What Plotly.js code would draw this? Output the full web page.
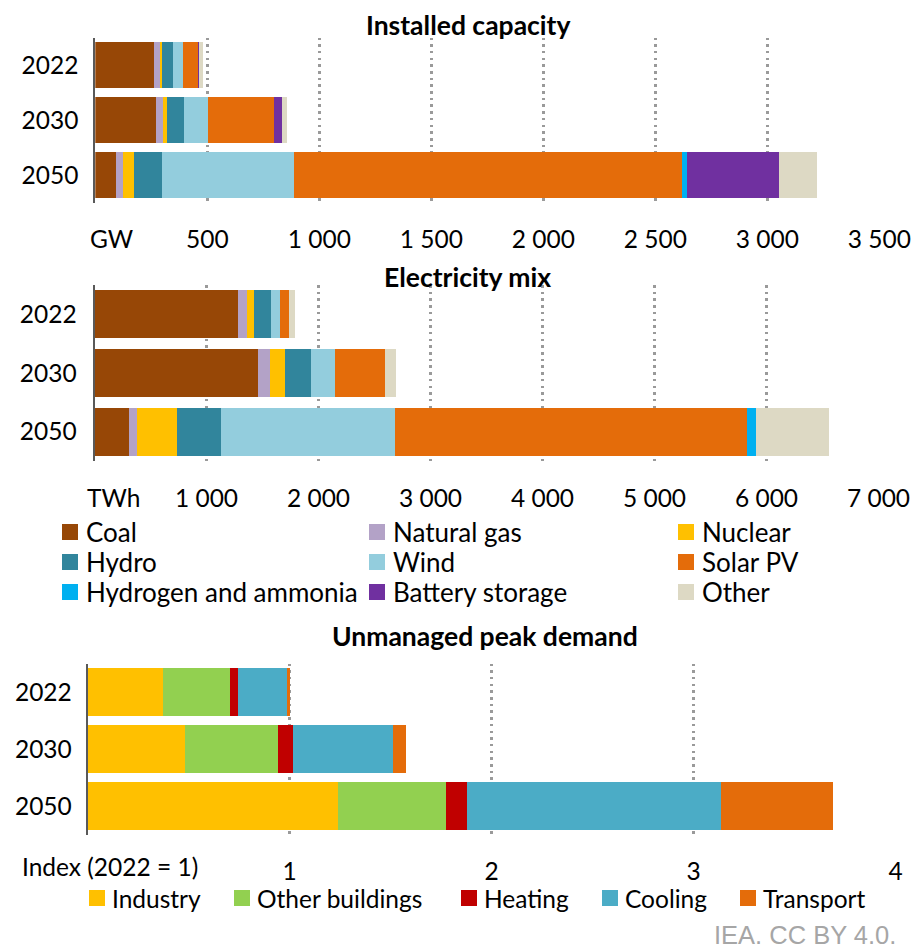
<!DOCTYPE html>
<html><head><meta charset="utf-8">
<script src="https://cdn.plot.ly/plotly-3.0.1.min.js"></script>
<style>body{margin:0;background:#fff}#chart{width:913px;height:950px}</style>
</head><body><div id="chart"></div>
<script>
// ---------- DATA ----------
const years = ['2022', '2030', '2050'];

// Installed capacity (GW)
const capCoal     = [260, 272, 92];
const capGas      = [27, 28, 32];
const capNuclear  = [10, 21, 47];
const capHydro    = [52, 76, 128];
const capWind     = [42, 104, 587];
const capSolar    = [69, 295, 1731];
const capHydrogen = [0, 0, 23];
const capBattery  = [1, 38, 413];
const capOther    = [20, 24, 169];

// Electricity mix (TWh)
const genCoal     = [1281, 1460, 308];
const genGas      = [81, 104, 69];
const genNuclear  = [59, 134, 360];
const genHydro    = [155, 235, 393];
const genWind     = [80, 215, 1550];
const genSolar    = [84, 446, 3145];
const genHydrogen = [0, 0, 79];
const genBattery  = [0, 0, 0];
const genOther    = [48, 96, 654];

// Unmanaged peak demand (index, 2022 = 1)
const pkIndustry  = [0.371, 0.483, 1.239];
const pkBuildings = [0.333, 0.459, 0.533];
const pkHeating   = [0.040, 0.076, 0.106];
const pkCooling   = [0.241, 0.495, 1.256];
const pkTransport = [0.015, 0.064, 0.556];

const techNames = ['Coal', 'Natural gas', 'Nuclear', 'Hydro', 'Wind', 'Solar PV',
                   'Hydrogen and ammonia', 'Battery storage', 'Other'];
const techColors = ['#974706', '#B3A2C7', '#FFC000', '#31859C', '#93CDDD', '#E46C0A',
                    '#00B0F0', '#7030A0', '#DDD9C4'];
const peakNames = ['Industry', 'Other buildings', 'Heating', 'Cooling', 'Transport'];
const peakColors = ['#FFC000', '#92D050', '#C00000', '#4BACC6', '#E46C0A'];

const capTickVals = [500, 1000, 1500, 2000, 2500, 3000, 3500];
const capTickText = ['500', '1 000', '1 500', '2 000', '2 500', '3 000', '3 500'];
const genTickVals = [1000, 2000, 3000, 4000, 5000, 6000, 7000];
const genTickText = ['1 000', '2 000', '3 000', '4 000', '5 000', '6 000', '7 000'];
const pkTickVals = [1, 2, 3, 4];
const pkTickText = ['1', '2', '3', '4'];

const titles = ['Installed capacity', 'Electricity mix', 'Unmanaged peak demand'];
const unitLabels = ['GW', 'TWh', 'Index (2022 = 1)'];
const sourceText = 'IEA. CC BY 4.0.';

// ---------- LAYOUT HELPERS ----------
const W = 913, H = 950;
const px = x => x / W;
const py = y => 1 - y / H;
const FONT = 'Lato, "Open Sans", sans-serif';
const FS = 24.5;   // tick labels
const FL = 26;     // legend labels
const FT = 26.5;   // titles

const capSeries = [capCoal, capGas, capNuclear, capHydro, capWind, capSolar, capHydrogen, capBattery, capOther];
const genSeries = [genCoal, genGas, genNuclear, genHydro, genWind, genSolar, genHydrogen, genBattery, genOther];
const pkSeries = [pkIndustry, pkBuildings, pkHeating, pkCooling, pkTransport];

const traces = [];
function addBars(series, names, colors, xa, ya, w) {
  series.forEach((vals, i) => {
    traces.push({
      type: 'bar', orientation: 'h', y: years, x: vals, name: names[i],
      marker: {color: colors[i], line: {width: 0}}, width: w,
      xaxis: xa, yaxis: ya, showlegend: false, hoverinfo: 'name+x'
    });
  });
}
addBars(capSeries, techNames, techColors, 'x', 'y', 0.84);
addBars(genSeries, techNames, techColors, 'x2', 'y2', 0.82);
addBars(pkSeries, peakNames, peakColors, 'x3', 'y3', 0.83);

function xax(dom, range, tv, tt, anchor) {
  return {
    domain: dom, range: range, anchor: anchor, tickvals: tv, ticktext: tt,
    showgrid: true, gridcolor: '#9a9a9a', gridwidth: 2.5, griddash: '2.5px,4.2px',
    zeroline: false, showline: false, ticks: '', fixedrange: true,
    tickfont: {family: FONT, size: FS, color: '#000'}, ticklabelstandoff: 20
  };
}
function yax(dom, anchor, standoff) {
  return {
    domain: dom, anchor: anchor, type: 'category', categoryarray: years,
    autorange: 'reversed', showline: true, linecolor: '#595959', linewidth: 2,
    showgrid: false, zeroline: false, ticks: '', ticklabelstandoff: standoff,
    tickfont: {family: FONT, size: FS, color: '#000'}, fixedrange: true
  };
}

const annotations = [];
const shapes = [];
// titles
[[468, 25], [467, 277], [485, 636]].forEach((p, i) => {
  annotations.push({text: '<b>' + titles[i] + '</b>', x: px(p[0]), y: py(p[1]), xref: 'paper', yref: 'paper',
    xanchor: 'center', yanchor: 'middle', showarrow: false, font: {family: FONT, size: FT, color: '#000'}});
});
// unit labels
[[88, 238], [85, 497], [20, 866]].forEach((p, i) => {
  annotations.push({text: unitLabels[i], x: px(p[0]), y: py(p[1]), xref: 'paper', yref: 'paper',
    xanchor: 'left', yanchor: 'middle', showarrow: false, font: {family: FONT, size: FS, color: '#000'}});
});
// legend 1: 3 columns x 3 rows
const l1cols = [62, 369, 678], l1rows = [532, 562, 592];
techNames.forEach((n, i) => {
  const cx = l1cols[i % 3], cy = l1rows[Math.floor(i / 3)];
  shapes.push({type: 'rect', xref: 'paper', yref: 'paper', x0: px(cx), x1: px(cx + 16),
    y0: py(cy + 8), y1: py(cy - 8), fillcolor: techColors[i], line: {width: 0}});
  annotations.push({text: n, x: px(cx + 22), y: py(cy), xref: 'paper', yref: 'paper',
    xanchor: 'left', yanchor: 'middle', showarrow: false, font: {family: FONT, size: FL, color: '#000'}});
});
// legend 2: single row
const l2cols = [89, 234, 461, 602, 740], l2row = 898;
peakNames.forEach((n, i) => {
  const cx = l2cols[i];
  shapes.push({type: 'rect', xref: 'paper', yref: 'paper', x0: px(cx), x1: px(cx + 16),
    y0: py(l2row + 8), y1: py(l2row - 8), fillcolor: peakColors[i], line: {width: 0}});
  annotations.push({text: n, x: px(cx + 21), y: py(l2row), xref: 'paper', yref: 'paper',
    xanchor: 'left', yanchor: 'middle', showarrow: false, font: {family: FONT, size: FS, color: '#000'}});
});
// source
annotations.push({text: sourceText, x: px(898), y: py(935), xref: 'paper', yref: 'paper',
  xanchor: 'right', yanchor: 'middle', showarrow: false,
  font: {family: '"Liberation Sans", Arial, sans-serif', size: 25.5, color: '#A6A6A6'}});

const layout = {
  width: W, height: H, margin: {l: 0, r: 0, t: 0, b: 0},
  paper_bgcolor: '#fff', plot_bgcolor: 'rgba(0,0,0,0)',
  barmode: 'stack', showlegend: false,
  xaxis: xax([px(95.3), px(879.3)], [0, 3500], capTickVals, capTickText, 'y'),
  yaxis: yax([py(202.5), py(37.5)], 'x', 10),
  xaxis2: xax([px(94.5), px(878.5)], [0, 7000], genTickVals, genTickText, 'y2'),
  yaxis2: yax([py(461), py(285)], 'x2', 11),
  xaxis3: xax([px(87.7), px(895.7)], [0, 4], pkTickVals, pkTickText, 'y3'),
  yaxis3: yax([py(834.5), py(663.5)], 'x3', 9),
  annotations: annotations, shapes: shapes
};

Plotly.newPlot('chart', traces, layout, {staticPlot: true, displayModeBar: false});
</script>
</body></html>
